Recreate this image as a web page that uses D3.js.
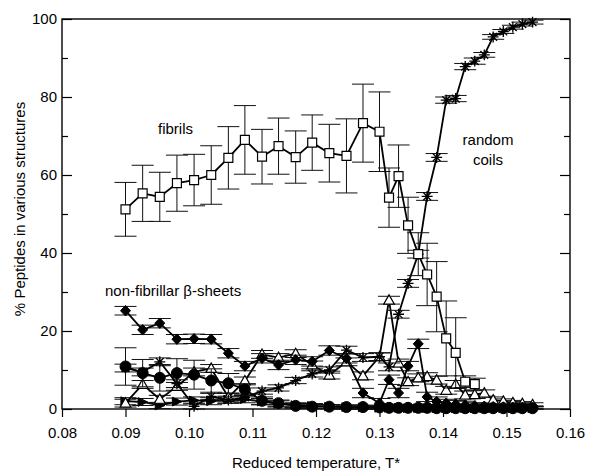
<!DOCTYPE html>
<html>
<head>
<meta charset="utf-8">
<script src="https://cdn.jsdelivr.net/npm/d3@7/dist/d3.min.js"></script>
<style>
  html, body { margin: 0; padding: 0; background: #fff; }
  svg text { font-family: "Liberation Sans", Arial, Helvetica, sans-serif; fill: #000; }
</style>
</head>
<body>
<svg id="chart" width="589" height="472"></svg>
<script>
// Reduced temperatures of the simulated replicas
const temps = [0.0900, 0.0927, 0.0954, 0.0981, 0.1008, 0.1035, 0.1062, 0.1088, 0.1115, 0.1141,
               0.1168, 0.1194, 0.1221, 0.1248, 0.1274, 0.1300, 0.1315, 0.1330, 0.1345, 0.1361,
               0.1375, 0.1390, 0.1405, 0.1420, 0.1435, 0.1450, 0.1465, 0.1479, 0.1495, 0.1510,
               0.1525, 0.1541];

// Fibrils (open squares)
const fibrils    = [51.2, 55.3, 54.4, 57.9, 58.7, 60.0, 64.4, 69.0, 64.7, 67.4,
                    64.6, 68.3, 65.6, 64.9, 73.3, 71.1, 54.2, 59.7, 47.1, 39.7,
                    34.5, 28.8, 18.1, 14.4, 7.0, 6.4];
const fibrilsErr = [6.9, 7.2, 6.3, 7.2, 6.6, 7.5, 8.0, 8.8, 7.0, 7.2,
                    6.7, 7.1, 7.4, 9.5, 10.0, 10.2, 7.6, 8.0, 7.2, 5.5,
                    8.0, 9.0, 9.6, 9.0, 1.5, 1.5];

// Random coils (asterisks)
const coils    = [10.5, 9.5, 12.1, 6.5, 0.7, 3.2, 2.3, 3.0, 4.6, 5.4,
                  7.3, 9.0, 10.0, 15.1, 13.2, 13.4, 10.8, 24.3, 32.2, 39.7,
                  54.5, 64.5, 79.2, 79.6, 87.8, 89.2, 90.8, 95.4, 96.8, 97.9,
                  98.7, 99.2];
const coilsErr = [1.0, 1.0, 1.0, 1.0, 0.8, 0.8, 0.8, 0.8, 0.8, 0.8,
                  0.8, 0.8, 0.8, 1.0, 1.0, 1.0, 1.0, 1.0, 1.0, 1.0,
                  1.0, 1.0, 0.8, 0.8, 0.8, 0.8, 0.6, 0.6, 0.5, 0.5,
                  0.5, 0.5];

// Non-fibrillar beta-sheets, filled diamonds
const sheetsA    = [25.2, 20.3, 22.0, 17.9, 18.0, 17.9, 14.3, 11.0, 13.0, 11.3,
                    12.6, 12.2, 15.0, 13.0, 4.1, 1.5, 7.5, 4.1, 11.0, 16.7,
                    3.1, 1.9, 1.5, 1.2, 1.0, 0.8, 0.7, 0.6, 0.5, 0.4,
                    0.4, 0.3];
const sheetsAErr = [1.1, 1.2, 1.2, 1.2, 1.2, 1.2, 1.2, 1.2, 1.2, 1.2,
                    1.2, 1.2, 1.2, 1.2, 1.2, 1.2, 1.2, 1.2, 1.2, 1.2,
                    1.2, 1.2, 1.0, 1.0, 1.0, 0.8, 0.8, 0.6, 0.6, 0.5,
                    0.5, 0.5];

// Non-fibrillar beta-sheets, filled circles
const sheetsB    = [10.9, 9.2, 8.0, 9.2, 8.8, 7.3, 6.6, 5.0, 2.1, 1.5,
                    0.8, 0.6, 0.6, 0.5, 0.5, 0.4, 0.3, 0.3, 0.3, 0.3,
                    0.3, 0.2, 0.2, 0.2, 0.2, 0.2, 0.2, 0.2, 0.2, 0.2,
                    0.2, 0.2];
const sheetsBErr = [4.8, 3.5, 3.4, 3.7, 3.7, 3.0, 2.5, 1.5, 1.0, 0.8,
                    0.6, 0.5, 0.5, 0.5, 0.5, 0.4, 0.4, 0.4, 0.4, 0.4,
                    0.4, 0.4, 0.4, 0.4, 0.4, 0.4, 0.4, 0.4, 0.4, 0.4,
                    0.4, 0.4];

// Non-fibrillar beta-sheets, open triangles
const sheetsC    = [1.5, 6.3, 2.5, 5.8, 9.5, 10.4, 3.0, 7.2, 14.0, 13.2,
                    14.2, 11.3, 8.7, 12.1, 8.5, 13.4, 27.9, 11.8, 7.0, 8.0,
                    8.3, 7.4, 4.8, 6.3, 3.6, 3.7, 4.1, 2.3, 2.0, 1.6,
                    1.4, 1.1];
const sheetsCErr = [1.0, 1.0, 1.0, 1.0, 1.0, 1.0, 1.0, 1.0, 1.0, 1.0,
                    1.0, 1.0, 1.0, 1.0, 1.0, 1.0, 1.0, 1.0, 1.0, 1.0,
                    1.0, 1.0, 1.0, 1.0, 1.0, 1.0, 0.8, 0.8, 0.6, 0.6,
                    0.5, 0.5];

// Non-fibrillar beta-sheets, filled right-pointing triangles
const sheetsD    = [2.0, 1.8, 0.9, 1.9, 2.2, 2.0, 2.4, 2.5, 1.9, 1.3,
                    1.0, 0.8, 0.6, 0.5, 0.4, 0.3, 0.3, 0.3, 0.2, 0.2,
                    0.2, 0.2, 0.2, 0.2, 0.2, 0.2, 0.2, 0.2, 0.2, 0.2,
                    0.2, 0.2];
const sheetsDErr = [0.9, 0.9, 0.8, 0.9, 0.9, 0.9, 0.9, 0.9, 0.8, 0.8,
                    0.6, 0.6, 0.5, 0.5, 0.4, 0.4, 0.4, 0.4, 0.4, 0.4,
                    0.4, 0.4, 0.4, 0.4, 0.4, 0.4, 0.4, 0.4, 0.4, 0.4,
                    0.4, 0.4];

const xTicks = [0.08, 0.09, 0.10, 0.11, 0.12, 0.13, 0.14, 0.15, 0.16];
const yTicks = [0, 20, 40, 60, 80, 100];
const yMinorTicks = [10, 30, 50, 70, 90];

// ---- custom marker shapes for d3.symbol ----
const symAsterisk = {
  draw(ctx, size) {
    const r = Math.sqrt(size) / 2;
    const d = r * Math.SQRT1_2;
    ctx.moveTo(0, -r); ctx.lineTo(0, r);
    ctx.moveTo(-r, 0); ctx.lineTo(r, 0);
    ctx.moveTo(-d, -d); ctx.lineTo(d, d);
    ctx.moveTo(-d, d); ctx.lineTo(d, -d);
  }
};
const symDiamond = {
  draw(ctx, size) {
    const r = Math.sqrt(size) / 2;
    ctx.moveTo(0, -r * 1.05); ctx.lineTo(r, 0); ctx.lineTo(0, r * 1.05); ctx.lineTo(-r, 0); ctx.closePath();
  }
};
const symRight = {
  draw(ctx, size) {
    const r = Math.sqrt(size) / 2;
    ctx.moveTo(r, 0); ctx.lineTo(-r * 0.9, -r * 0.85); ctx.lineTo(-r * 0.9, r * 0.85); ctx.closePath();
  }
};
const symTriUp = {
  draw(ctx, size) {
    const r = Math.sqrt(size) / 2;
    ctx.moveTo(0, -r); ctx.lineTo(r, r * 0.75); ctx.lineTo(-r, r * 0.75); ctx.closePath();
  }
};

const series = [
  { values: sheetsD, errors: sheetsDErr, type: symRight,    size: 105, fill: "#000", stroke: "#000", sw: 1 },
  { values: sheetsC, errors: sheetsCErr, type: symTriUp,    size: 115, fill: "#fff", stroke: "#000", sw: 1.2 },
  { values: sheetsA, errors: sheetsAErr, type: symDiamond,  size: 100, fill: "#000", stroke: "#000", sw: 1 },
  { values: coils,   errors: coilsErr,   type: symAsterisk, size: 120, fill: "none", stroke: "#000", sw: 1.3 },
  { values: sheetsB, errors: sheetsBErr, type: d3.symbolCircle, size: 95, fill: "#000", stroke: "#000", sw: 1 },
  { values: fibrils, errors: fibrilsErr, type: d3.symbolSquare, size: 80, fill: "#fff", stroke: "#000", sw: 1.2 }
];

const svg = d3.select("#chart");
const x = d3.scaleLinear().domain([0.08, 0.16]).range([62, 570]);
const y = d3.scaleLinear().domain([0, 100]).range([409, 19]);

// ---- axes ----
const axisFont = g => g.selectAll("text").style("font-size", "15px");

svg.append("g")
  .attr("transform", `translate(0,${y(0)})`)
  .call(d3.axisBottom(x).tickValues(xTicks).tickFormat(d3.format(".2f")).tickSize(8).tickPadding(10))
  .call(g => g.select(".domain").remove())
  .call(g => g.selectAll("line").attr("stroke-width", 1.2))
  .call(axisFont);

svg.append("g")
  .attr("transform", `translate(${x(0.08)},0)`)
  .call(d3.axisLeft(y).tickValues(yTicks).tickFormat(d3.format("d")).tickSize(-10).tickPadding(5))
  .call(g => g.select(".domain").remove())
  .call(g => g.selectAll("line").attr("stroke-width", 1.2))
  .call(axisFont);

svg.append("g")
  .attr("transform", `translate(${x(0.08)},0)`)
  .call(d3.axisLeft(y).tickValues(yMinorTicks).tickFormat("").tickSize(-6))
  .call(g => g.select(".domain").remove())
  .call(g => g.selectAll("line").attr("stroke-width", 1.2));

svg.append("g")
  .attr("transform", `translate(${x(0.16)},0)`)
  .call(d3.axisRight(y).tickValues(yTicks).tickFormat("").tickSize(-10))
  .call(g => g.select(".domain").remove())
  .call(g => g.selectAll("line").attr("stroke-width", 1.2));

svg.append("g")
  .attr("transform", `translate(${x(0.16)},0)`)
  .call(d3.axisRight(y).tickValues(yMinorTicks).tickFormat("").tickSize(-6))
  .call(g => g.select(".domain").remove())
  .call(g => g.selectAll("line").attr("stroke-width", 1.2));

// plot frame
svg.append("rect")
  .attr("x", x(0.08)).attr("y", y(100))
  .attr("width", x(0.16) - x(0.08)).attr("height", y(0) - y(100))
  .attr("fill", "none").attr("stroke", "#000").attr("stroke-width", 1.4);

// ---- data ----
const capHalf = 11;
const plot = svg.append("g");

series.forEach(s => {
  const pts = s.values.map((v, i) => ({ t: temps[i], v, e: s.errors[i] })).filter(d => d.v != null);
  const g = plot.append("g");

  // error bars
  const eb = g.append("g").attr("stroke", "#111").attr("stroke-width", 1);
  eb.selectAll("line.v").data(pts).join("line")
    .attr("x1", d => x(d.t)).attr("x2", d => x(d.t))
    .attr("y1", d => y(d.v + d.e)).attr("y2", d => y(Math.max(d.v - d.e, 0)));
  eb.selectAll("line.top").data(pts).join("line").attr("class", "top")
    .attr("x1", d => x(d.t) - capHalf).attr("x2", d => x(d.t) + capHalf)
    .attr("y1", d => y(d.v + d.e)).attr("y2", d => y(d.v + d.e));
  eb.selectAll("line.bot").data(pts).join("line").attr("class", "bot")
    .attr("x1", d => x(d.t) - capHalf).attr("x2", d => x(d.t) + capHalf)
    .attr("y1", d => y(Math.max(d.v - d.e, 0))).attr("y2", d => y(Math.max(d.v - d.e, 0)));

  // connecting line
  g.append("path").datum(pts)
    .attr("fill", "none").attr("stroke", "#000").attr("stroke-width", 1.8)
    .attr("stroke-linejoin", "round")
    .attr("d", d3.line().x(d => x(d.t)).y(d => y(d.v)));

  // markers
  g.selectAll("path.m").data(pts).join("path").attr("class", "m")
    .attr("transform", d => `translate(${x(d.t)},${y(d.v)})`)
    .attr("d", d3.symbol().type(s.type).size(s.size))
    .attr("fill", s.fill).attr("stroke", s.stroke).attr("stroke-width", s.sw);
});

// ---- annotations ----
const ann = svg.append("g").style("font-size", "15px");
ann.append("text").attr("x", 158).attr("y", 134).text("fibrils");
ann.append("text").attr("x", 488).attr("y", 145).attr("text-anchor", "middle").text("random");
ann.append("text").attr("x", 488).attr("y", 165).attr("text-anchor", "middle").text("coils");
ann.append("text").attr("x", 105).attr("y", 296).text("non-fibrillar β-sheets");

// axis titles
svg.append("text")
  .attr("transform", "translate(25,209) rotate(-90)")
  .attr("text-anchor", "middle").style("font-size", "15px")
  .text("% Peptides in various structures");
svg.append("text")
  .attr("x", 316).attr("y", 468)
  .attr("text-anchor", "middle").style("font-size", "15px")
  .text("Reduced temperature, T*");
</script>
</body>
</html>
